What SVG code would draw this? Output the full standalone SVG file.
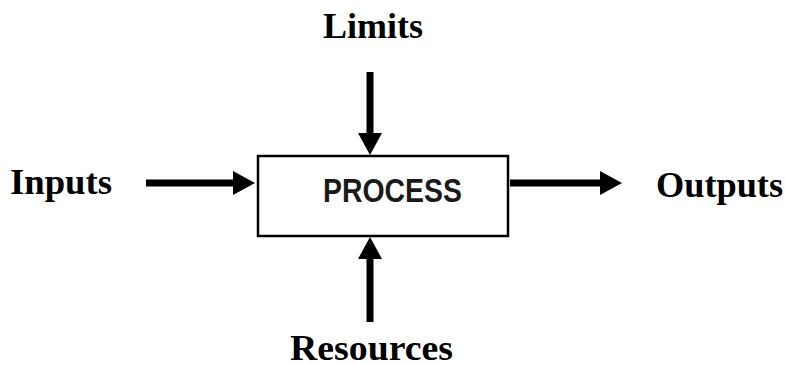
<svg xmlns="http://www.w3.org/2000/svg" width="785" height="365" viewBox="0 0 785 365">
<style>
.lbl{font-family:"Liberation Serif","Times New Roman",serif;font-weight:bold;font-size:36px;fill:#000}
.box{fill:#fff;stroke:#000;stroke-width:2.5}
.ptxt{font-family:"Liberation Sans",Arial,sans-serif;font-weight:bold;font-size:34px;fill:#1a1a1a}
.con{stroke:#000;stroke-width:7;fill:none}
</style>
<defs>
<marker id="ah" viewBox="0 0 22 24" refX="12" refY="12" markerWidth="22" markerHeight="24" markerUnits="userSpaceOnUse" orient="auto">
<path d="M0,0 L22,12 L0,24 z" fill="#000"/>
</marker>
</defs>
<rect width="785" height="365" fill="#fff"/>
<g id="process">
<rect class="box" x="258" y="156" width="250" height="80"/>
<text class="ptxt" x="323" y="202" textLength="139" lengthAdjust="spacingAndGlyphs">PROCESS</text>
</g>
<g id="inputs"><text class="lbl" x="10" y="194" textLength="102" lengthAdjust="spacingAndGlyphs">Inputs</text></g>
<g id="outputs"><text class="lbl" x="656" y="197" textLength="127" lengthAdjust="spacingAndGlyphs">Outputs</text></g>
<g id="limits"><text class="lbl" x="323" y="38" textLength="100" lengthAdjust="spacingAndGlyphs">Limits</text></g>
<g id="resources"><text class="lbl" x="290" y="360" textLength="163" lengthAdjust="spacingAndGlyphs">Resources</text></g>
<g id="connectors">
<line class="con" x1="146" y1="183" x2="245" y2="183" marker-end="url(#ah)"/>
<line class="con" x1="510" y1="183" x2="612" y2="183" marker-end="url(#ah)"/>
<line class="con" x1="370" y1="72" x2="370" y2="145" marker-end="url(#ah)"/>
<line class="con" x1="370" y1="322" x2="370" y2="247" marker-end="url(#ah)"/>
</g>
</svg>
